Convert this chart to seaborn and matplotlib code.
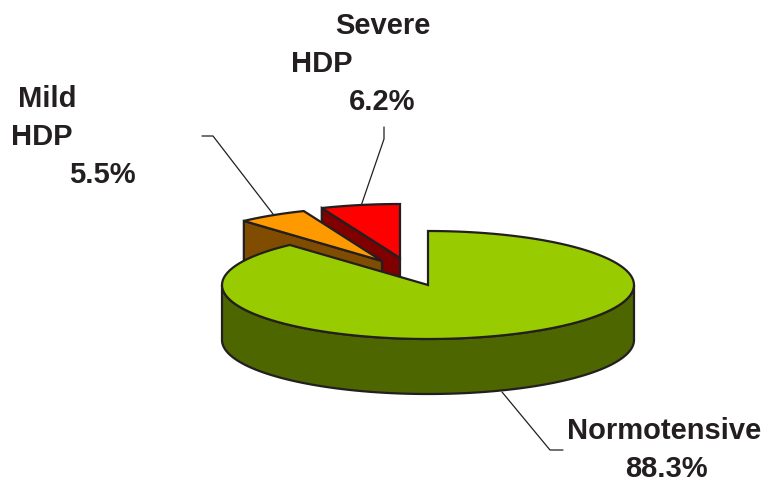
import matplotlib
matplotlib.use("Agg")
import matplotlib.pyplot as plt
import numpy as np
import seaborn as sns

categories = ["Normotensive", "Mild HDP", "Severe HDP"]
shares = [88.3, 5.5, 6.2]
top_colors = ["#99cc00", "#ff9900", "#ff0000"]
side_colors = ["#4d6600", "#804d00", "#800000"]

# pie geometry in figure pixels
CENTER = (428, 285)
RX, RY = 206, 54
DEPTH = 55
EDGE = "#231f20"
explode = [(0, 0), (-46, -24), (-28, -27)]


def rim(start, end, cx, cy, dy=0):
    """Points on the squashed circle, angles clockwise from 12 o'clock."""
    angles = np.radians(np.linspace(start, end, 120))
    return cx + RX * np.sin(angles), cy + dy - RY * np.cos(angles)


def draw_slice(ax, start, end, offset, top, side, zorder):
    cx, cy = CENTER[0] + offset[0], CENTER[1] + offset[1]
    x, y = rim(start, end, cx, cy)

    # cut face on the start edge, seen for the exploded slices
    if offset != (0, 0):
        ax.fill([x[0], cx, cx, x[0]], [y[0], cy, cy + DEPTH, y[0] + DEPTH],
                facecolor=side, edgecolor=EDGE, lw=1.6, zorder=zorder)
    else:
        # front wall of the big slice
        fx, fy = rim(90, 270, cx, cy)
        bx, by = rim(90, 270, cx, cy, DEPTH)
        ax.fill(np.r_[fx, bx[::-1]], np.r_[fy, by[::-1]],
                facecolor=side, edgecolor=EDGE, lw=1.6, zorder=zorder)

    ax.fill(np.r_[cx, x], np.r_[cy, y], facecolor=top, edgecolor=EDGE,
            lw=1.6, joinstyle="miter", zorder=zorder + 0.5)


sns.set_theme(style="white")
plt.rcParams["font.family"] = ["Liberation Sans", "DejaVu Sans"]

fig = plt.figure(figsize=(7.63, 4.82), dpi=100)
ax = fig.add_axes([0, 0, 1, 1])
ax.set_xlim(0, 763)
ax.set_ylim(482, 0)
ax.axis("off")

bounds = np.r_[0, np.cumsum(shares)] / sum(shares) * 360
# back slices first, the big one goes on top of them
for i in [2, 1, 0]:
    draw_slice(ax, bounds[i], bounds[i + 1], explode[i],
               top_colors[i], side_colors[i], zorder=(3 - i))

# leader lines
leaders = [
    ([563, 550, 502], [450, 450, 392]),
    ([202, 213, 273], [136, 136, 214]),
    ([384, 384, 361], [127, 139, 206]),
]
for lx, ly in leaders:
    ax.plot(lx, ly, color=EDGE, lw=0.9, zorder=0.5)

# label lines: text, left x, baseline y
labels = [
    ("Normotensive", 567, 439),
    (f"{shares[0]}%", 625, 477),
    ("Mild", 18, 107),
    ("HDP", 11, 145),
    (f"{shares[1]}%", 69, 183),
    ("Severe", 335, 34),
    ("HDP", 291, 72),
    (f"{shares[2]}%", 349, 110),
]
for text, x, y in labels:
    ax.text(x, y, text, fontsize=21, fontweight="bold", color=EDGE,
            ha="left", va="baseline")

fig.savefig("out.png", dpi=100)
plt.close(fig)
